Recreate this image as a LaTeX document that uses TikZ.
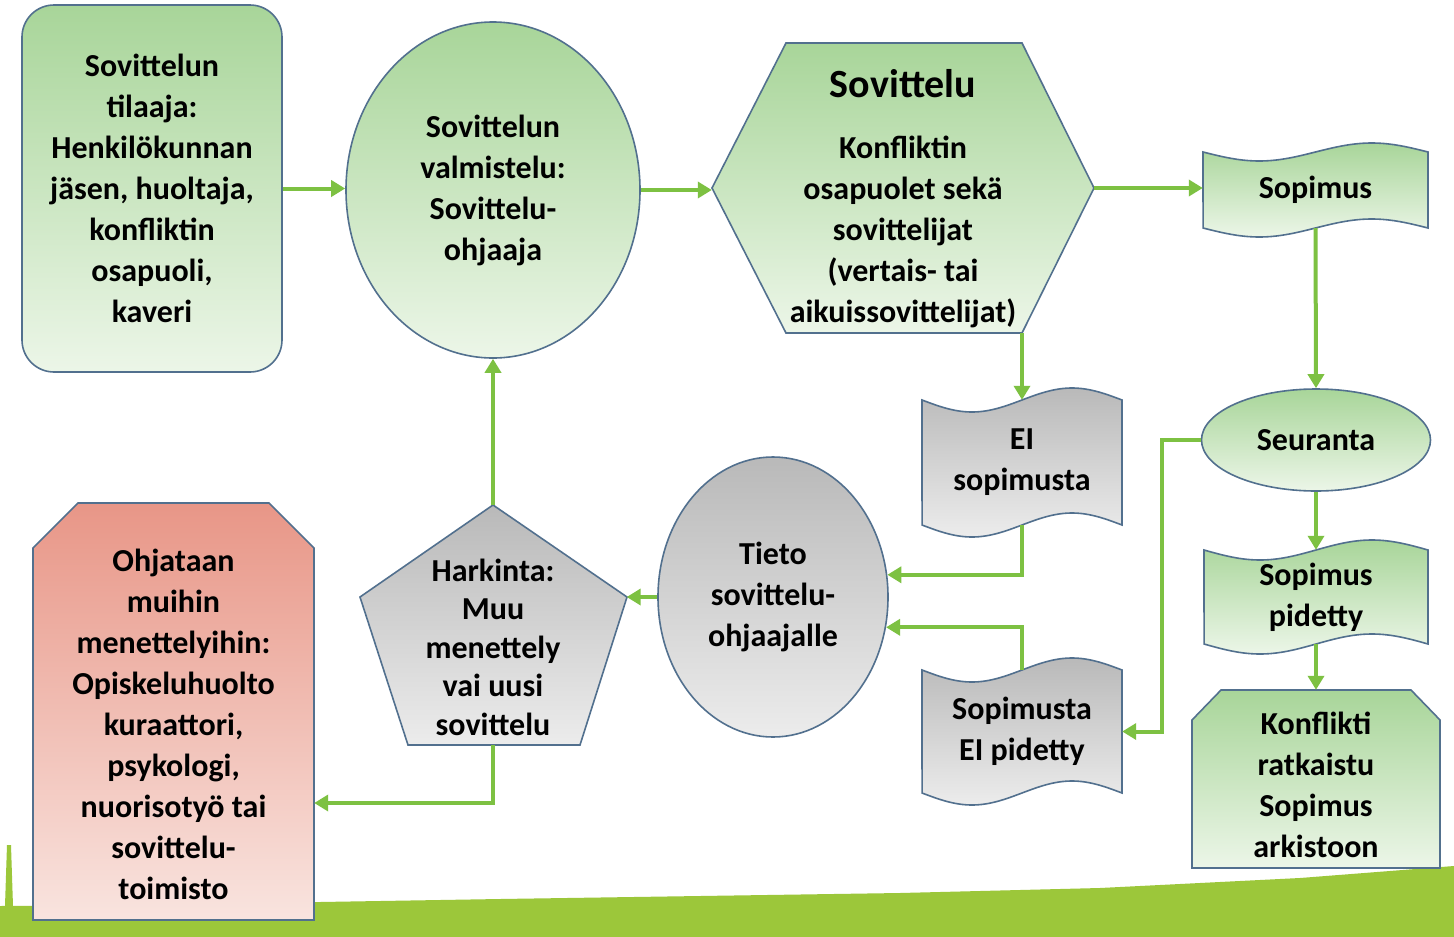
\documentclass[tikz,border=0pt]{standalone}
\usepackage{fontspec}
\setmainfont{Carlito}
\usetikzlibrary{shapes.geometric,arrows.meta}
\definecolor{edgec}{RGB}{82,112,142}
\definecolor{arrowc}{RGB}{125,193,66}
\definecolor{grassc}{RGB}{156,199,58}
\definecolor{gtop}{RGB}{168,213,153}
\definecolor{gbot}{RGB}{236,246,232}
\definecolor{ytop}{RGB}{185,185,185}
\definecolor{ybot}{RGB}{236,236,236}
\definecolor{rtop}{RGB}{232,150,135}
\definecolor{rbot}{RGB}{249,228,223}
\newcommand\tapepath[5]{plot[domain=0:1,samples=41,smooth] ({#1+(#2-#1)*\x},{#3+#5*sin(360*\x)}) -- plot[domain=1:0,samples=41,smooth] ({#1+(#2-#1)*\x},{#4+#5*sin(360*\x)}) -- cycle}
\tikzset{
  greenfill/.style={top color=gtop,bottom color=gbot,draw=edgec,line width=1.6pt},
  grayfill/.style={top color=ytop,bottom color=ybot,draw=edgec,line width=1.6pt},
  redfill/.style={top color=rtop,bottom color=rbot,draw=edgec,line width=1.6pt},
  txt/.style={align=center,font=\fontsize{32}{41}\selectfont\bfseries,text=black,inner sep=0pt},
  holder/.style={txt,rectangle,inner sep=0pt},
  arr/.style={draw=arrowc,line width=4pt,-{Triangle[length=14pt,width=16pt]}},
}
\begin{document}
\begin{tikzpicture}[x=1pt,y=-1pt]
\useasboundingbox (0,0) rectangle (1454,937);
\fill[white] (0,0) rectangle (1454,937);
% grass
\fill[grassc] (0,906) -- (150,905) -- (320,902) -- (500,899) -- (700,896) -- (900,893) -- (1100,888) -- (1300,878) -- (1454,866) -- (1454,937) -- (0,937) -- cycle;
\fill[grassc] (5,906) -- (7,845) -- (11,845) -- (13,906) -- cycle;

% A
\node[greenfill,rounded corners=32pt,minimum width=260pt,minimum height=367pt,txt] (A) at (152,188.5)
  {Sovittelun\\tilaaja:\\Henkilökunnan\\jäsen, huoltaja,\\konfliktin\\osapuoli,\\kaveri};
% B
\node[ellipse,greenfill,minimum width=294pt,minimum height=336pt,txt] (B) at (493,190)
  {Sovittelun\\valmistelu:\\Sovittelu-\\ohjaaja};
% C hexagon
\path[greenfill] (712,188) -- (786,43) -- (1022,43) -- (1094,188) -- (1022,333) -- (786,333) -- cycle;
\node[holder,minimum width=382pt,minimum height=290pt] (C) at (903,188) {};
\node[txt] (Ctext) at (903,199) {{\fontsize{40}{41}\selectfont Sovittelu}\\[20pt]Konfliktin\\osapuolet sekä\\sovittelijat\\(vertais- tai\\aikuissovittelijat)};
% D Sopimus
\path[greenfill] \tapepath{1203}{1428}{152}{228}{9};
\node[holder,minimum width=225pt,minimum height=76pt] (D) at (1315.5,190) {Sopimus};
% E EI sopimusta
\path[grayfill] \tapepath{922}{1122}{400}{525}{12};
\node[holder,minimum width=200pt,minimum height=125pt] (E) at (1022,462.5) {EI\\sopimusta};
% F Sopimusta EI pidetty
\path[grayfill] \tapepath{922}{1122}{670}{793}{12};
\node[holder,minimum width=200pt,minimum height=123pt] (F) at (1022,731.5) {Sopimusta\\EI pidetty};
% S Seuranta
\node[ellipse,greenfill,minimum width=229pt,minimum height=102pt,txt] (S) at (1316,440) {Seuranta};
% G Sopimus pidetty
\path[greenfill] \tapepath{1204}{1428}{550}{644}{10};
\node[holder,minimum width=224pt,minimum height=94pt] (G) at (1316,597) {Sopimus\\pidetty};
% K Konflikti
\path[greenfill] (1192,720) -- (1221,690) -- (1411,690) -- (1440,720) -- (1440,868) -- (1192,868) -- cycle;
\node[holder,minimum width=248pt,minimum height=190pt] (K) at (1316,785) {Konflikti\\ratkaistu\\Sopimus\\arkistoon};
% T Tieto
\node[ellipse,grayfill,minimum width=230pt,minimum height=280pt,txt] (T) at (773,597) {Tieto\\sovittelu-\\ohjaajalle};
% H pentagon
\path[grayfill] (493,505) -- (627,597) -- (580,745) -- (408,745) -- (360,597) -- cycle;
\node[holder,minimum width=267pt,minimum height=240pt] (H) at (493,625) {};
\node[txt,font=\fontsize{32}{38.5}\selectfont\bfseries] (Htext) at (493,647) {Harkinta:\\Muu\\menettely\\vai uusi\\sovittelu};
% O Ohjataan
\path[redfill] (33,548) -- (78,503) -- (269,503) -- (314,548) -- (314,920) -- (33,920) -- cycle;
\node[holder,minimum width=281pt,minimum height=417pt] (O) at (173.5,711.5) {};
\node[txt] (Otext) at (173.5,724.5) {Ohjataan\\muihin\\menettelyihin:\\Opiskeluhuolto\\kuraattori,\\psykologi,\\nuorisotyö tai\\sovittelu-\\toimisto};

% connectors
\draw[arr] (A.east) -- (A.east -| B.west);
\draw[arr] (B.east) -- (B.east -| C.west);
\draw[arr] (C.east) -- (C.east -| D.west);
\draw[arr] (D.south) -- (S.north);
\draw[arr] (C.south -| E.north) -- (E.north);
\draw[arr] (E.south) |- (T.11);
\draw[arr] (F.north) |- (T.-15);
\draw[arr] (S.west) -- ++(-39,0) |- (F.east);
\draw[arr] (S.south) -- (G.north);
\draw[arr] (G.south) -- (K.north);
\draw[arr] (T.west) -- (T.west -| H.east);
\draw[arr] (H.north) -- (B.south);
\coordinate (hturn) at (493,803);
\draw[arr] (H.south) -- (hturn) -- (hturn -| O.east);
\end{tikzpicture}
\end{document}
